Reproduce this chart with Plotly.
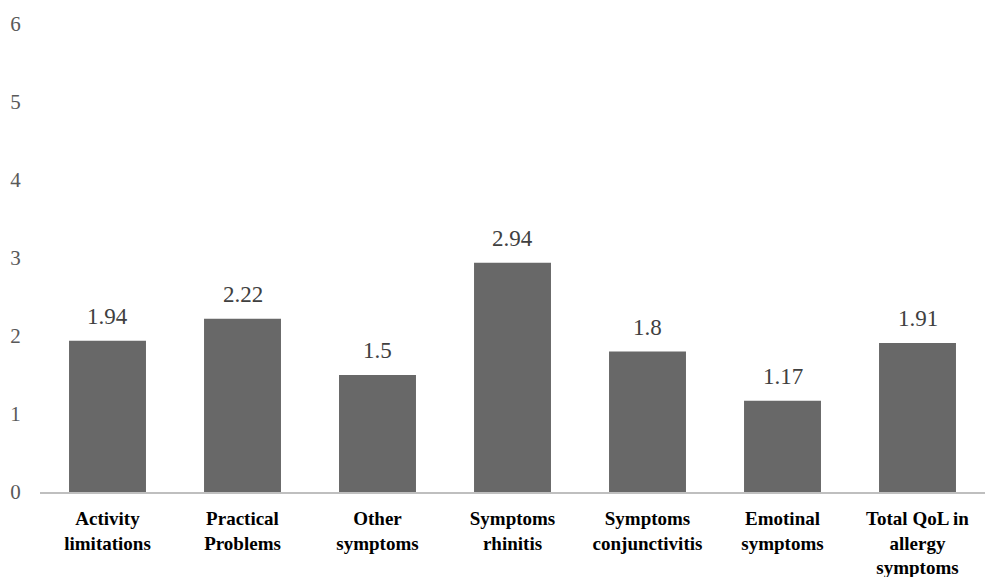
import plotly.graph_objects as go

categories = [
    "Activity<br>limitations",
    "Practical<br>Problems",
    "Other<br>symptoms",
    "Symptoms<br>rhinitis",
    "Symptoms<br>conjunctivitis",
    "Emotinal<br>symptoms",
    "Total QoL in<br>allergy<br>symptoms",
]
scores = [1.94, 2.22, 1.5, 2.94, 1.8, 1.17, 1.91]
score_labels = ["1.94", "2.22", "1.5", "2.94", "1.8", "1.17", "1.91"]
y_ticks = [0, 1, 2, 3, 4, 5, 6]

serif = "Times New Roman, Liberation Serif, DejaVu Serif, serif"

fig = go.Figure(
    go.Bar(
        x=list(range(len(categories))),
        y=scores,
        marker=dict(color="#686868", line=dict(width=0)),
        width=0.57,
        hoverinfo="skip",
    )
)

for i, (v, lab) in enumerate(zip(scores, score_labels)):
    fig.add_annotation(
        x=i, y=v, text=lab, showarrow=False,
        yanchor="bottom", yshift=10,
        font=dict(family=serif, size=23, color="#404040"),
    )

fig.update_layout(
    width=987, height=577,
    margin=dict(l=40, r=2, t=24, b=85, autoexpand=False),
    paper_bgcolor="white", plot_bgcolor="white",
    font=dict(family=serif),
    showlegend=False,
)
fig.update_xaxes(
    range=[-0.5, len(categories) - 0.5],
    tickvals=list(range(len(categories))),
    ticktext=[f"<b>{c}</b>" for c in categories],
    tickfont=dict(family=serif, size=19, color="#000000"),
    showline=True, linecolor="#bfbfbf", linewidth=2,
    ticks="outside", ticklen=8, tickcolor="rgba(0,0,0,0)",
    showgrid=False, zeroline=False, automargin=False,
)
fig.update_yaxes(
    range=[0, 6],
    tickvals=y_ticks,
    tickfont=dict(family=serif, size=21, color="#595959"),
    showgrid=False, zeroline=False, showline=False,
    ticks="outside", ticklen=14, tickcolor="rgba(0,0,0,0)",
    automargin=False,
)

fig.write_html("out.html")
